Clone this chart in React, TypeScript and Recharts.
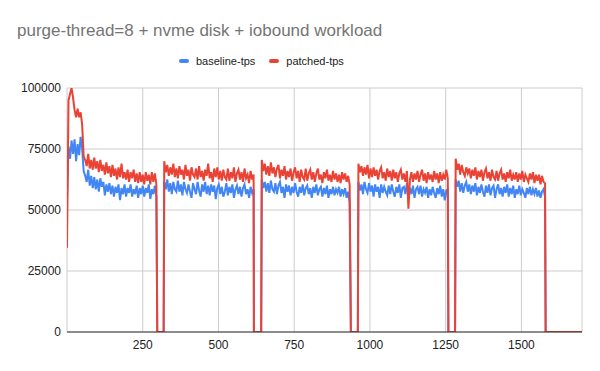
import { LineChart, Line, XAxis, YAxis, CartesianGrid } from 'recharts';

// samples are every 5 rows, values in thousands of tps
const STEP = 5;
const segmentStarts = [0, 321, 643, 962, 1283];
// rows where both runs drop to zero (start, end of each stall)
const stalls = [[298, 319], [617, 641], [937, 960], [1259, 1281], [1580, 1700]];

const baseline1 = [
  55, 76, 71, 78.5, 73, 79, 70, 77, 72.5, 80,
  75, 66, 64, 61.5, 66.5, 60, 64, 59, 63.5, 58.5,
  62.5, 57.5, 63, 59.5, 61.5, 56, 60.5, 57.5, 61, 56.5,
  60, 55.5, 59.5, 57, 60.5, 54, 59, 56.5, 60.5, 55.5,
  59, 57, 60.5, 55.5, 58.5, 56.5, 60, 55, 59, 56.5,
  60, 55.5, 59, 57, 60.5, 54.5, 58.5, 56.5, 60, 55.5,
];
const patched1 = [
  34.5, 95, 97.5, 100, 96, 91, 88, 91.5, 88, 90,
  85, 72, 70.5, 68, 73, 67, 70.5, 66.5, 71.5, 67,
  70, 65.5, 70.5, 66, 68.5, 64.5, 69.5, 65, 68, 63.5,
  68.5, 64, 67, 62.5, 67.5, 63.5, 69, 63, 65.5, 62.5,
  66.5, 61.5, 65.5, 63, 66.5, 61.5, 65, 61, 65.5, 61.5,
  64.5, 60.5, 65.5, 62, 64.5, 60.5, 65.5, 61.5, 65, 60.5,
];
const baseline2 = [
  61.5, 58.5, 62.5, 57.5, 61, 56.5, 61.5, 58.5, 57.5, 62,
  57.5, 60.5, 56, 61.5, 58.5, 57, 60.5, 57.5, 55, 61,
  58.5, 56.5, 61.5, 58, 55.5, 60.5, 57.5, 61.5, 56.5, 60,
  56, 60.5, 57.5, 60, 54.5, 59, 60.5, 56.5, 59.5, 55.5,
  57.5, 61, 56, 59.5, 57, 60.5, 55, 58.5, 60, 56.5,
  59.5, 55.5, 59, 60.5, 56.5, 58.5, 55, 59.5, 57, 58.5,
];
const patched2 = [
  70, 65.5, 68.5, 64, 67.5, 64.5, 69, 63.5, 67, 63,
  68, 64.5, 66.5, 62.5, 68.5, 64, 66.5, 62, 67.5, 64.5,
  63.5, 67, 62.5, 68, 63.5, 66, 62, 66.5, 64, 69,
  63, 65.5, 61.5, 67, 63.5, 67.5, 62.5, 66, 62, 66.5,
  63.5, 62.5, 67, 62, 65.5, 63, 67.5, 61.5, 65, 66.5,
  62.5, 65.5, 61.5, 67, 63, 64.5, 61, 66, 62.5, 64.5,
];
const baseline3 = [
  62.5, 59, 61.5, 57.5, 61, 57, 62, 58.5, 57.5, 61,
  56.5, 60, 61.5, 57, 59.5, 55, 60.5, 57.5, 60, 56,
  59.5, 57, 61, 57.5, 55.5, 59.5, 57, 60.5, 56, 59,
  60, 56.5, 59, 55, 59.5, 57, 60.5, 56, 58.5, 59.5,
  55.5, 59, 56.5, 60, 55, 58.5, 56.5, 59.5, 56, 58.5,
  57, 59.5, 55.5, 58.5, 56.5, 59, 55, 57.5, 53,
];
const patched3 = [
  70.5, 66, 69, 64.5, 68, 64, 69.5, 65, 67.5, 63.5,
  67, 68.5, 63, 66.5, 64, 68, 62.5, 66, 63.5, 67,
  62, 65.5, 67.5, 63, 66, 61.5, 66.5, 63.5, 62.5, 67,
  62, 65, 66.5, 62.5, 65.5, 61.5, 65, 67, 62.5, 64.5,
  61, 65.5, 63, 66.5, 62, 64.5, 61.5, 66, 62.5, 65,
  61.5, 64.5, 61, 65.5, 62.5, 65, 61.5, 64, 60.5,
];
const baseline4 = [
  61.5, 58, 60.5, 56.5, 61.5, 58.5, 57, 61, 57.5, 60,
  55.5, 60.5, 57.5, 59.5, 55, 60.5, 57, 59.5, 57.5, 56,
  60, 56.5, 60.5, 57.5, 55.5, 59.5, 57, 60.5, 55, 59,
  59.5, 56.5, 61, 55.5, 59, 56.5, 60, 55, 58.5, 59.5,
  56.5, 60, 55.5, 58.5, 57, 59.5, 55, 58.5, 56, 59.5,
  57, 55, 59, 56.5, 60, 55.5, 58.5, 54, 58, 58.5,
];
const patched4 = [
  69, 65.5, 68, 64, 67.5, 64.5, 68.5, 63, 67, 63.5,
  67.5, 64, 66.5, 62.5, 66, 67.5, 63, 65.5, 62, 67,
  63.5, 66, 62, 66.5, 63, 65.5, 61.5, 65, 66.5, 62.5,
  65, 61.5, 66, 50.5, 62.5, 65.5, 61.5, 65, 62.5, 66,
  61.5, 64.5, 66.5, 62, 65, 61, 65.5, 62.5, 64.5, 61.5,
  66, 62.5, 65, 61, 65.5, 62, 64.5, 62.5, 66.5, 63,
];
const baseline5 = [
  62.5, 59.5, 62, 57.5, 61, 57, 60, 61.5, 57.5, 60.5,
  56.5, 60, 57.5, 61, 56, 59.5, 57, 60.5, 57.5, 55.5,
  60, 57, 60.5, 56, 59, 60, 55, 58.5, 60.5, 56.5,
  59, 55.5, 59.5, 57, 60.5, 55.5, 59, 56.5, 60, 55,
  58.5, 56.5, 60, 56, 58.5, 57, 55, 59, 56.5, 59.5,
  56, 58.5, 56.5, 59, 55.5, 58, 55, 57.5, 58.5, 55.5,
];
const patched5 = [
  71, 66.5, 69, 64.5, 68.5, 65.5, 64, 67.5, 65, 67,
  63, 66.5, 64, 67.5, 62.5, 66, 63.5, 66.5, 62, 65.5,
  67, 63, 65.5, 62, 66.5, 63.5, 62.5, 66, 62, 65,
  66.5, 62.5, 65, 61.5, 65.5, 63, 66.5, 62, 64.5, 62.5,
  65.5, 61.5, 65, 62.5, 66, 61.5, 64.5, 63, 61.5, 65,
  62.5, 65.5, 61, 64.5, 62, 64.5, 60.5, 64, 61.5, 61,
];

const baselineSegs = [baseline1, baseline2, baseline3, baseline4, baseline5];
const patchedSegs = [patched1, patched2, patched3, patched4, patched5];

const xTicks = [250, 500, 750, 1000, 1250, 1500];
const yTicks = [0, 25000, 50000, 75000, 100000];

const rows: { row: number; baseline: number; patched: number }[] = [];
segmentStarts.forEach((start, k) => {
  baselineSegs[k].forEach((v, i) => {
    rows.push({ row: start + i * STEP, baseline: v * 1000, patched: patchedSegs[k][i] * 1000 });
  });
  stalls[k].forEach(r => rows.push({ row: r, baseline: 0, patched: 0 }));
});

const FONT = '"Liberation Sans", Arial, sans-serif';

export default function App() {
  return (
    <div style={{ position: 'absolute', left: 0, top: 0, width: 600, height: 371, background: '#fff', fontFamily: FONT }}>
      <div style={{ position: 'absolute', left: 17, top: 21, fontSize: 17, color: '#757575', whiteSpace: 'nowrap' }}>
        purge-thread=8 + nvme disk + iobound workload
      </div>
      <div style={{ position: 'absolute', left: 179, top: 55, fontSize: 11, color: '#222', display: 'flex', alignItems: 'center', whiteSpace: 'nowrap' }}>
        <span style={{ display: 'inline-block', width: 10, height: 4, borderRadius: 2, background: '#4285F4', marginRight: 7 }} />
        <span>baseline-tps</span>
        <span style={{ display: 'inline-block', width: 10, height: 4, borderRadius: 2, background: '#EA4335', marginLeft: 14, marginRight: 7 }} />
        <span>patched-tps</span>
      </div>
      <LineChart width={600} height={371} data={rows} margin={{ top: 88, right: 18, bottom: 9, left: 0 }}>
        <CartesianGrid stroke="#cccccc" />
        <XAxis
          dataKey="row"
          type="number"
          domain={[0, 1700]}
          ticks={xTicks}
          height={30}
          tickLine={false}
          axisLine={{ stroke: '#333333' }}
          tick={{ fill: '#222', fontSize: 12, fontFamily: FONT }}
          allowDataOverflow
        />
        <YAxis
          width={67}
          domain={[0, 100000]}
          ticks={yTicks}
          tickLine={false}
          axisLine={false}
          tickMargin={0}
          tick={{ fill: '#222', fontSize: 12, fontFamily: FONT }}
          allowDataOverflow
        />
        <Line type="linear" dataKey="baseline" stroke="#4285F4" strokeWidth={2} dot={false} isAnimationActive={false} />
        <Line type="linear" dataKey="patched" stroke="#EA4335" strokeWidth={2} dot={false} isAnimationActive={false} />
      </LineChart>
    </div>
  );
}
